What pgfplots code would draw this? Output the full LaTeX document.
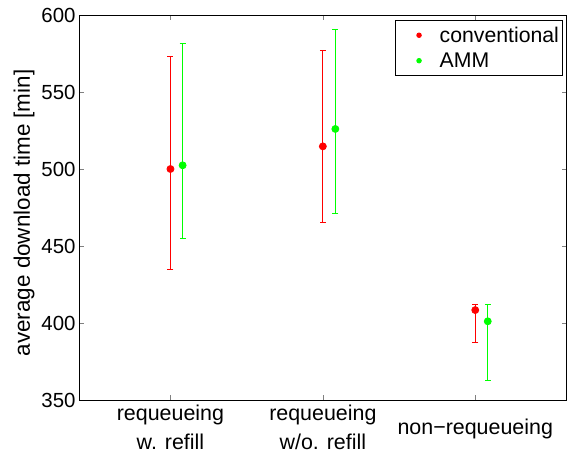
\documentclass[border=0pt]{standalone}
\usepackage{pgfplots}
\pgfplotsset{compat=1.18}
\usepackage{fontspec}
\setmainfont{Liberation Sans}
\definecolor{mred}{RGB}{255,0,0}
\definecolor{mgreen}{RGB}{0,255,0}
\begin{document}
\begin{tikzpicture}
\begin{axis}[
  width=487.7bp, height=385bp, scale only axis,
  xmin=0.4, xmax=3.6, ymin=350, ymax=600,
  xtick={1,2,3},
  xticklabels={{requeueing\\w. refill},{requeueing\\w/o. refill},{\rule{0pt}{30bp}non−requeueing}},
  xticklabel style={align=center, font=\fontsize{21.5}{29.5}\selectfont, anchor=north, yshift=-1bp},
  ytick={350,400,450,500,550,600},
  yticklabel style={font=\fontsize{20.5}{24}\selectfont},
  /pgf/number format/assume math mode=true,
  ylabel={average download time [min]},
  ylabel style={font=\fontsize{22.5}{26}\selectfont, at={(ticklabel cs:0.486)}},
  tick align=inside, major tick length=5bp,
  xtick pos=both, ytick pos=both,
  axis line style={black, line width=0.6pt},
  legend style={at={(1,1)}, xshift=-4.5bp, yshift=-5bp, anchor=north east,
    font=\fontsize{21.3}{24}\selectfont, draw=black, line width=0.6pt,
    inner xsep=2bp, inner ysep=4.5bp, row sep=5bp, column sep=17bp,
    nodes={inner xsep=1bp, inner ysep=2bp}},
  legend cell align=left,
  legend image code/.code={\fill[#1, opacity=0] (-21bp,-1bp) rectangle (0bp,1bp); \fill[#1] (0bp,0) circle (2.3bp);},
  every axis plot/.append style={only marks, mark=*, mark size=3.5bp, line width=0.8pt,
    error bars/error bar style={line width=0.8pt},
    error bars/error mark options={rotate=90, mark size=3bp, line width=0.8pt}},
]
\addplot[mred, mark options={fill=mred, draw=mred}, error bars/.cd, y dir=both, y explicit,
  error bar style={mred}]
  coordinates {
  (1,500.0) += (0,72.9) -= (0,65.2)
  (2,514.7) += (0,62.4) -= (0,49.1)
  (3,408.4) += (0,3.9) -= (0,21.2)
  };
\addlegendentry{conventional}
\addplot[mgreen, mark options={fill=mgreen, draw=mgreen}, error bars/.cd, y dir=both, y explicit,
  error bar style={mgreen}]
  coordinates {
  (1.08,502.4) += (0,79.2) -= (0,47.4)
  (2.082,526.0) += (0,64.7) -= (0,55.0)
  (3.082,401.1) += (0,11.2) -= (0,38.1)
  };
\addlegendentry{AMM}
\end{axis}
\path ([xshift=-79bp,yshift=-58bp]current axis.south west) rectangle ([xshift=2.3bp,yshift=15bp]current axis.north east);
\end{tikzpicture}
\end{document}
